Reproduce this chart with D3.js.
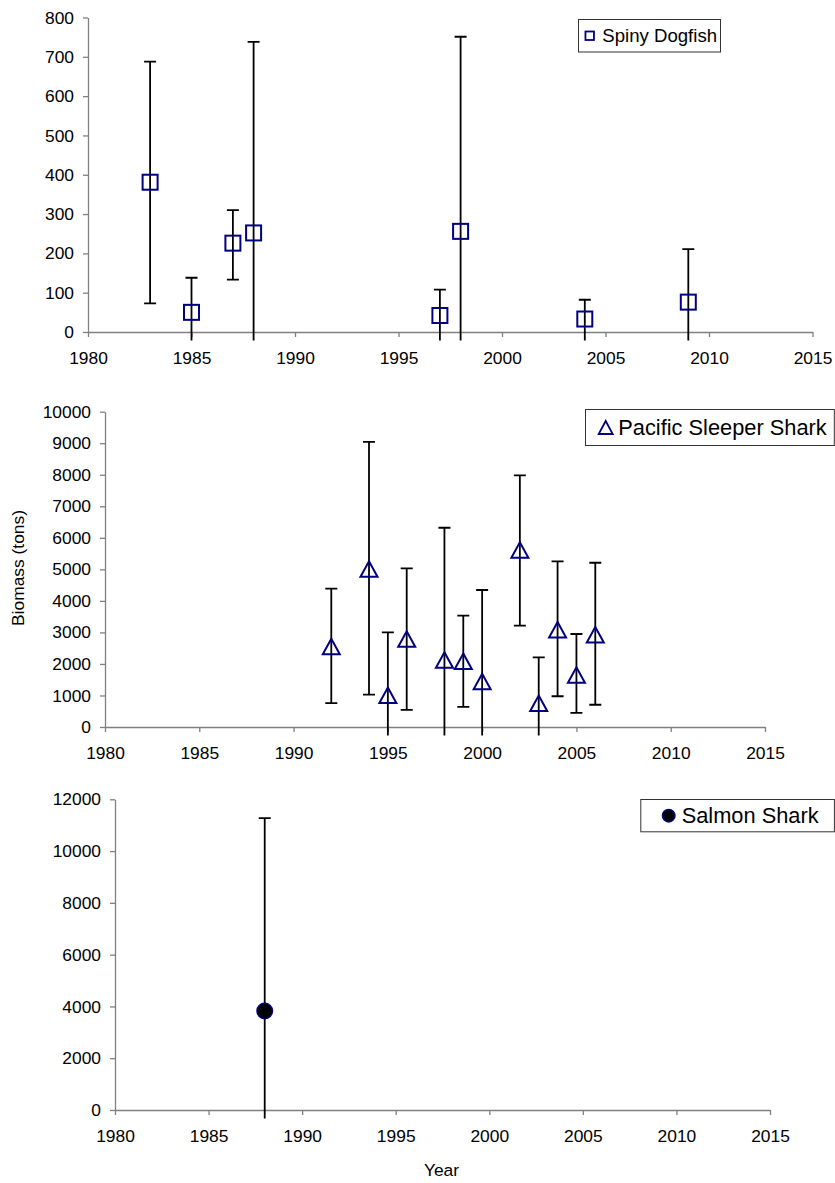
<!DOCTYPE html>
<html>
<head>
<meta charset="utf-8">
<script src="https://cdn.jsdelivr.net/npm/d3@7"></script>
<style>
  html, body { margin: 0; padding: 0; background: #fff; }
  svg { display: block; font-family: "Liberation Sans", Arial, sans-serif; }
</style>
</head>
<body>
<svg id="chart" width="835" height="1183"></svg>
<script>
// ---------------- DATA ----------------
const xTickYears = [1980, 1985, 1990, 1995, 2000, 2005, 2010, 2015];

const dogfishYears   = [1983, 1985, 1987, 1988, 1997, 1998, 2004, 2009];
const dogfishBiomass = [381, 50, 226, 252, 42, 256, 33, 76];
const dogfishUpper   = [688, 138, 310, 738, 108, 751, 82, 211];
const dogfishLower   = [73, -38, 133, -234, -30, -239, -25, -59];
const dogfishTicks   = [0, 100, 200, 300, 400, 500, 600, 700, 800];

const sleeperYears   = [1992, 1994, 1995, 1996, 1998, 1999, 2000, 2002, 2003, 2004, 2005, 2006];
const sleeperBiomass = [2550, 5010, 1005, 2790, 2125, 2085, 1440, 5615, 750, 3085, 1650, 2925];
const sleeperUpper   = [4390, 9040, 3000, 5030, 6320, 3530, 4345, 7980, 2210, 5255, 2950, 5210];
const sleeperLower   = [760, 1025, -990, 540, -2070, 640, -1465, 3215, -710, 975, 445, 705];
const sleeperTicks   = [0, 1000, 2000, 3000, 4000, 5000, 6000, 7000, 8000, 9000, 10000];

const salmonYears    = [1988];
const salmonBiomass  = [3825];
const salmonUpper    = [11270];
const salmonLower    = [-3620];
const salmonTicks    = [0, 2000, 4000, 6000, 8000, 10000, 12000];

const legendNames = ["Spiny Dogfish", "Pacific Sleeper Shark", "Salmon Shark"];
const yAxisTitle = "Biomass (tons)";
const xAxisTitle = "Year";

// ---------------- DRAWING ----------------
const svg = d3.select("#chart");
const NAVY = "#000080";
const AXIS = "#808080";
const TICK_FONT = 17.4;

function zip(years, vals, up, lo) {
  return years.map((y, i) => ({ year: y, value: vals[i], upper: up[i], lower: lo[i] }));
}

const panels = [
  { id: "p1", data: zip(dogfishYears, dogfishBiomass, dogfishUpper, dogfishLower),
    ticks: dogfishTicks, left: 88, right: 812.5, top: 17.5, bottom: 332, marker: "square",
    legend: { x: 578.5, y: 19.5, w: 142, h: 32.5, name: legendNames[0], font: 18.6, mx: 589.7, tx: 602.3 } },
  { id: "p2", data: zip(sleeperYears, sleeperBiomass, sleeperUpper, sleeperLower),
    ticks: sleeperTicks, left: 105, right: 765, top: 411.7, bottom: 727, marker: "triangle",
    legend: { x: 585.5, y: 409.5, w: 248.8, h: 36, name: legendNames[1], font: 21.8, mx: 605.7, tx: 618.3 } },
  { id: "p3", data: zip(salmonYears, salmonBiomass, salmonUpper, salmonLower),
    ticks: salmonTicks, left: 115, right: 770, top: 799.3, bottom: 1110, marker: "circle",
    legend: { x: 640.8, y: 799.5, w: 193.6, h: 32.3, name: legendNames[2], font: 21.8, mx: 668.7, tx: 681.7 } }
];

function drawMarker(g, type, cx, cy, big) {
  if (type === "square") {
    const s = big ? 15 : 8.5;
    g.append("rect").attr("x", cx - s / 2).attr("y", cy - s / 2).attr("width", s).attr("height", s)
      .attr("fill", "none").attr("stroke", NAVY).attr("stroke-width", big ? 2 : 1.8);
  } else if (type === "triangle") {
    const w = big ? 17 : 14, h = big ? 15.5 : 13;
    g.append("path")
      .attr("d", `M${cx},${cy - h / 2}L${cx + w / 2},${cy + h / 2}L${cx - w / 2},${cy + h / 2}Z`)
      .attr("fill", "none").attr("stroke", NAVY).attr("stroke-width", big ? 2 : 1.8)
      .attr("stroke-linejoin", "miter");
  } else {
    const r = big ? 7.8 : 6.3;
    g.append("circle").attr("cx", cx).attr("cy", cy).attr("r", r)
      .attr("fill", "#000").attr("stroke", NAVY).attr("stroke-width", 1.4);
  }
}

panels.forEach(p => {
  const x = d3.scaleLinear().domain([xTickYears[0], xTickYears[xTickYears.length - 1]]).range([p.left, p.right]);
  const y = d3.scaleLinear().domain([p.ticks[0], p.ticks[p.ticks.length - 1]]).range([p.bottom, p.top]);

  const g = svg.append("g").attr("id", p.id);

  // clip (error bars can extend slightly below axis)
  const clipId = "clip-" + p.id;
  svg.append("clipPath").attr("id", clipId).append("rect")
    .attr("x", p.left - 20).attr("y", p.top - 5)
    .attr("width", p.right - p.left + 40).attr("height", p.bottom - p.top + 5 + 8.5);

  // Y axis
  const yAxis = g.append("g").attr("transform", `translate(${p.left},0)`)
    .call(d3.axisLeft(y).tickValues(p.ticks).tickSize(5).tickSizeOuter(0).tickPadding(9).tickFormat(d3.format("d")));
  // X axis
  const xAxis = g.append("g").attr("transform", `translate(0,${p.bottom})`)
    .call(d3.axisBottom(x).tickValues(xTickYears).tickSize(5).tickSizeOuter(0).tickPadding(14.6).tickFormat(d3.format("d")));

  [yAxis, xAxis].forEach(a => {
    a.select(".domain").attr("stroke", AXIS).attr("stroke-width", 1.3);
    a.selectAll(".tick line").attr("stroke", AXIS).attr("stroke-width", 1.3);
    a.selectAll(".tick text").attr("fill", "#000").style("font-size", TICK_FONT + "px")
      .style("font-family", '"Liberation Sans", Arial, sans-serif');
  });

  // Error bars
  const eb = g.append("g").attr("clip-path", `url(#${clipId})`);
  p.data.forEach(d => {
    const cx = x(d.year);
    eb.append("line").attr("x1", cx).attr("x2", cx).attr("y1", y(d.upper)).attr("y2", y(d.lower))
      .attr("stroke", "#000").attr("stroke-width", 1.8);
    eb.append("line").attr("x1", cx - 6).attr("x2", cx + 6).attr("y1", y(d.upper)).attr("y2", y(d.upper))
      .attr("stroke", "#000").attr("stroke-width", 1.8);
    if (d.lower >= 0) {
      eb.append("line").attr("x1", cx - 6).attr("x2", cx + 6).attr("y1", y(d.lower)).attr("y2", y(d.lower))
        .attr("stroke", "#000").attr("stroke-width", 1.8);
    }
  });

  // Markers
  const mk = g.append("g");
  p.data.forEach(d => drawMarker(mk, p.marker, x(d.year), y(d.value), true));

  // Legend
  const L = p.legend;
  const lg = g.append("g");
  lg.append("rect").attr("x", L.x).attr("y", L.y).attr("width", L.w).attr("height", L.h)
    .attr("fill", "#fff").attr("stroke", "#333").attr("stroke-width", 1);
  drawMarker(lg, p.marker, L.mx, L.y + L.h / 2, false);
  lg.append("text").attr("x", L.tx).attr("y", L.y + L.h / 2 + L.font * 0.358)
    .style("font-size", L.font + "px").attr("fill", "#000").text(L.name);
});

// Axis titles
svg.append("text")
  .attr("transform", "translate(23.5,568) rotate(-90)")
  .attr("text-anchor", "middle")
  .style("font-size", "17.4px").attr("fill", "#000")
  .text(yAxisTitle);

svg.append("text")
  .attr("x", 441.5).attr("y", 1175.5)
  .attr("text-anchor", "middle")
  .style("font-size", "17.4px").attr("fill", "#000")
  .text(xAxisTitle);
</script>
</body>
</html>
